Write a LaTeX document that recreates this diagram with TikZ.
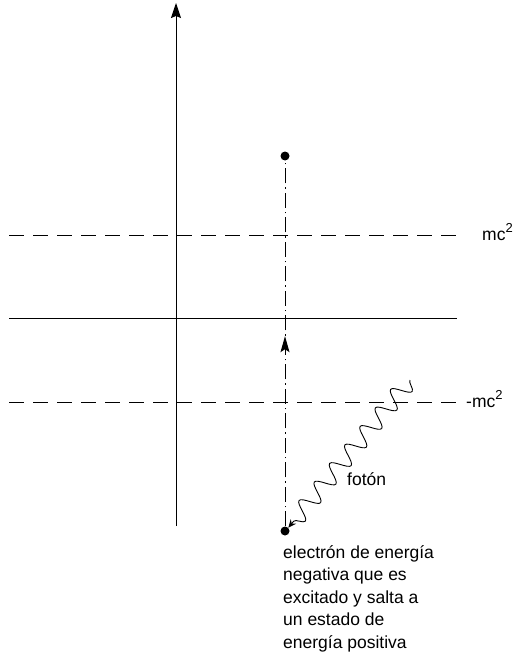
\documentclass[tikz,border=0pt]{standalone}
\usepackage{fontspec}
\setmainfont{Liberation Sans}
\usetikzlibrary{arrows.meta,decorations.pathmorphing,decorations.markings}

\newcommand{\sqr}{\raisebox{0.42em}{\fontsize{13}{13}\selectfont 2}}

\begin{document}
\begin{tikzpicture}[x=1pt,y=-1pt,
    every node/.style={font=\fontsize{17.5}{22.5}\selectfont},
    axis/.style={line width=1pt},
    level/.style={line width=1pt,dash pattern=on 15pt off 9pt},
    jump/.style={line width=1pt,dash pattern=on 15pt off 4pt on 1.5pt off 4pt},
    dot/.style={circle,fill=black,inner sep=0pt,minimum size=9pt},
    photon/.style={line width=0.9pt,decorate,
      decoration={snake,amplitude=9pt,segment length=24pt,post length=5pt}}
  ]
  \useasboundingbox (0,0) rectangle (519,658);
  % axes
  \coordinate (xl) at (9,318);
  \coordinate (xr) at (457,318);
  \coordinate (yb) at (176,526);
  \coordinate (yt) at (176,3);
  \draw[axis] (xl) -- (xr);
  \draw[axis,-{Stealth[length=15pt,width=10pt,inset=2pt]}] (yb) -- (yt);
  % energy levels
  \coordinate (posl) at (9,235);
  \coordinate (posr) at (462,235);
  \coordinate (negl) at (9,402);
  \coordinate (negr) at (462,402);
  \draw[level] (posl) -- (posr);
  \draw[level] (negl) -- (negr);
  \node[anchor=base west,inner sep=0pt] (mcpos) at (482,240) {mc\sqr};
  \node[anchor=base west,inner sep=0pt] (mcneg) at (466,407) {-mc\sqr};
  % electron jump
  \node[dot] (excited) at (285,156) {};
  \node[dot] (negative) at (285,531) {};
  \draw[jump,postaction={decorate,decoration={markings,
      mark=at position 0.52 with {\arrow{Stealth[length=16pt,width=9pt,inset=3pt]}}}}]
    (negative) -- (excited);
  % photon
  \coordinate (photonstart) at (410,380);
  \draw[photon,-{Stealth[length=8pt,width=7pt]}] (photonstart) -- (negative.north east);
  \node[anchor=base west,inner sep=0pt] (photonlabel) at (347,485) {fotón};
  \node[anchor=north west,align=left,inner sep=0pt] (caption) at (283,545)
    {electrón de energía\\negativa que es\\excitado y salta a\\un estado de\\energía positiva};
\end{tikzpicture}
\end{document}
